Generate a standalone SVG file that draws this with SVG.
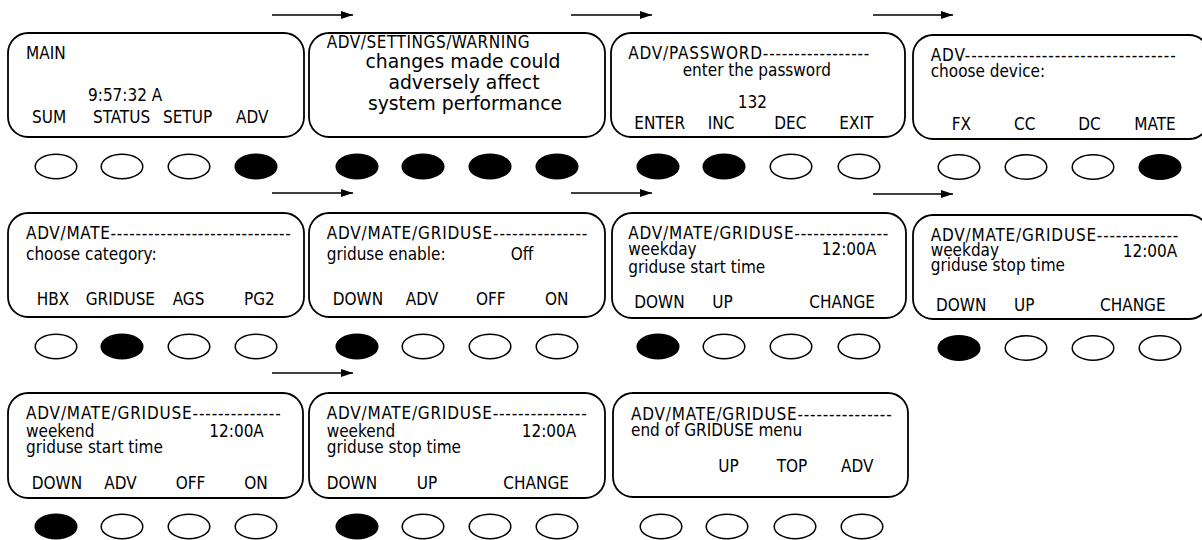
<svg xmlns="http://www.w3.org/2000/svg" width="1202" height="540" viewBox="0 0 1202 540">
<defs>
<style>
.box{fill:#fff;stroke:#000;stroke-width:1.8}
.on{fill:#000;stroke:#000;stroke-width:1.5}
.off{fill:#fff;stroke:#000;stroke-width:1.5}
.t{font-family:"DejaVu Sans Condensed","DejaVu Sans",sans-serif;font-stretch:condensed;font-size:17px;fill:#000}
.w{font-family:"DejaVu Sans","Liberation Sans",sans-serif;font-size:18.8px;fill:#000;text-anchor:middle}
.arr{stroke:#000;stroke-width:1.5;fill:none;marker-end:url(#ah)}
</style>
<marker id="ah" viewBox="0 0 12 8" refX="12" refY="4" markerWidth="12" markerHeight="8" markerUnits="userSpaceOnUse" orient="auto">
<path d="M0,0 L12,4 L0,8 Z" fill="#000"/>
</marker>
</defs>
<rect width="1202" height="540" fill="#fff"/>

<g id="connectors">
<line class="arr" x1="272" y1="15" x2="353" y2="15"/>
<line class="arr" x1="571" y1="15" x2="652" y2="15"/>
<line class="arr" x1="873" y1="15" x2="953" y2="15"/>
<line class="arr" x1="272" y1="193" x2="353" y2="193"/>
<line class="arr" x1="571" y1="193" x2="652" y2="193"/>
<line class="arr" x1="873" y1="194" x2="953" y2="194"/>
<line class="arr" x1="272" y1="373" x2="353" y2="373"/>
</g>

<g id="main">
<rect class="box" x="8" y="33" width="296" height="104" rx="20"/>
<text class="t" x="26" y="59.3">MAIN</text>
<text class="t" x="88" y="101">9:57:32 A</text>
<text class="t" x="32" y="122.7">SUM</text>
<text class="t" x="93" y="122.7">STATUS</text>
<text class="t" x="163" y="122.7">SETUP</text>
<text class="t" x="236" y="122.7">ADV</text>
<ellipse class="off" cx="56" cy="166.5" rx="20.8" ry="12.3"/>
<ellipse class="off" cx="122" cy="166.5" rx="20.8" ry="12.3"/>
<ellipse class="off" cx="189" cy="166.5" rx="20.8" ry="12.3"/>
<ellipse class="on" cx="256" cy="166.5" rx="20.8" ry="12.3"/>
</g>

<g id="adv-warning">
<rect class="box" x="309" y="33" width="296" height="104" rx="20"/>
<text class="t" x="326.7" y="47.7" textLength="203">ADV/SETTINGS/WARNING</text>
<text class="w" x="463" y="68.3">changes made could</text>
<text class="w" x="464" y="89.3">adversely affect</text>
<text class="w" x="465" y="110">system performance</text>
<ellipse class="on" cx="357" cy="166.5" rx="20.8" ry="12.3"/>
<ellipse class="on" cx="423" cy="166.5" rx="20.8" ry="12.3"/>
<ellipse class="on" cx="490" cy="166.5" rx="20.8" ry="12.3"/>
<ellipse class="on" cx="557" cy="166.5" rx="20.8" ry="12.3"/>
</g>

<g id="adv-password">
<rect class="box" x="611" y="33" width="294" height="104" rx="20"/>
<text class="t" x="628.3" y="59" textLength="241">ADV/PASSWORD-----------------</text>
<text class="t" x="682.7" y="75.7">enter the password</text>
<text class="t" x="737.7" y="108.3">132</text>
<text class="t" x="634.3" y="129.3">ENTER</text>
<text class="t" x="707.7" y="129.3">INC</text>
<text class="t" x="774.3" y="129.3">DEC</text>
<text class="t" x="839.3" y="129.3">EXIT</text>
<ellipse class="on" cx="658" cy="166.5" rx="20.8" ry="12.3"/>
<ellipse class="on" cx="724" cy="166.5" rx="20.8" ry="12.3"/>
<ellipse class="off" cx="791" cy="166.5" rx="20.8" ry="12.3"/>
<ellipse class="off" cx="859" cy="166.5" rx="20.8" ry="12.3"/>
</g>

<g id="adv-device">
<rect class="box" x="913" y="35" width="296" height="104" rx="20"/>
<text class="t" x="930.7" y="60.7" textLength="245">ADV---------------------------------</text>
<text class="t" x="930.7" y="77.3">choose device:</text>
<text class="t" x="951.7" y="130">FX</text>
<text class="t" x="1014" y="130">CC</text>
<text class="t" x="1078.3" y="130">DC</text>
<text class="t" x="1134.3" y="130">MATE</text>
<ellipse class="off" cx="959" cy="167" rx="20.8" ry="12.3"/>
<ellipse class="off" cx="1026" cy="167" rx="20.8" ry="12.3"/>
<ellipse class="off" cx="1093" cy="167" rx="20.8" ry="12.3"/>
<ellipse class="on" cx="1160" cy="167" rx="20.8" ry="12.3"/>
</g>

<g id="adv-mate">
<rect class="box" x="8" y="213" width="296" height="104" rx="20"/>
<text class="t" x="26" y="239.3" textLength="264.7">ADV/MATE-----------------------------</text>
<text class="t" x="26" y="260">choose category:</text>
<text class="t" x="36.7" y="305">HBX</text>
<text class="t" x="85.7" y="305">GRIDUSE</text>
<text class="t" x="172.7" y="305">AGS</text>
<text class="t" x="244" y="305">PG2</text>
<ellipse class="off" cx="56" cy="346.5" rx="20.8" ry="12.3"/>
<ellipse class="on" cx="122" cy="346.5" rx="20.8" ry="12.3"/>
<ellipse class="off" cx="189" cy="346.5" rx="20.8" ry="12.3"/>
<ellipse class="off" cx="256" cy="346.5" rx="20.8" ry="12.3"/>
</g>

<g id="griduse-enable">
<rect class="box" x="309" y="213" width="296" height="104" rx="20"/>
<text class="t" x="326.7" y="239.3" textLength="260.6">ADV/MATE/GRIDUSE---------------</text>
<text class="t" x="326.7" y="260">griduse enable:</text>
<text class="t" x="510.7" y="260">Off</text>
<text class="t" x="332.7" y="305">DOWN</text>
<text class="t" x="405.7" y="305">ADV</text>
<text class="t" x="476" y="305">OFF</text>
<text class="t" x="545" y="305">ON</text>
<ellipse class="on" cx="357" cy="346.5" rx="20.8" ry="12.3"/>
<ellipse class="off" cx="423" cy="346.5" rx="20.8" ry="12.3"/>
<ellipse class="off" cx="490" cy="346.5" rx="20.8" ry="12.3"/>
<ellipse class="off" cx="557" cy="346.5" rx="20.8" ry="12.3"/>
</g>

<g id="weekday-start">
<rect class="box" x="612" y="213" width="294" height="105" rx="20"/>
<text class="t" x="628.3" y="239.3" textLength="260">ADV/MATE/GRIDUSE---------------</text>
<text class="t" x="628.3" y="254.5">weekday</text>
<text class="t" x="821.7" y="255">12:00A</text>
<text class="t" x="628.3" y="272.7">griduse start time</text>
<text class="t" x="634.3" y="308.3">DOWN</text>
<text class="t" x="712.3" y="308.3">UP</text>
<text class="t" x="809.3" y="308.3">CHANGE</text>
<ellipse class="on" cx="658" cy="346.5" rx="20.8" ry="12.3"/>
<ellipse class="off" cx="724" cy="346.5" rx="20.8" ry="12.3"/>
<ellipse class="off" cx="791" cy="346.5" rx="20.8" ry="12.3"/>
<ellipse class="off" cx="859" cy="346.5" rx="20.8" ry="12.3"/>
</g>

<g id="weekday-stop">
<rect class="box" x="913" y="215" width="296" height="104" rx="20"/>
<text class="t" x="930.7" y="241" textLength="247.6">ADV/MATE/GRIDUSE-------------</text>
<text class="t" x="930.7" y="255.7">weekday</text>
<text class="t" x="1122.7" y="256.7">12:00A</text>
<text class="t" x="930.7" y="270.7">griduse stop time</text>
<text class="t" x="936" y="311">DOWN</text>
<text class="t" x="1014" y="311">UP</text>
<text class="t" x="1100" y="311">CHANGE</text>
<ellipse class="on" cx="959" cy="348" rx="20.8" ry="12.3"/>
<ellipse class="off" cx="1026" cy="348" rx="20.8" ry="12.3"/>
<ellipse class="off" cx="1093" cy="348" rx="20.8" ry="12.3"/>
<ellipse class="off" cx="1160" cy="348" rx="20.8" ry="12.3"/>
</g>

<g id="weekend-start">
<rect class="box" x="8" y="393" width="295" height="105" rx="20"/>
<text class="t" x="26" y="419.3" textLength="254.7">ADV/MATE/GRIDUSE--------------</text>
<text class="t" x="26" y="436.7">weekend</text>
<text class="t" x="209.3" y="436.7">12:00A</text>
<text class="t" x="26" y="453.3">griduse start time</text>
<text class="t" x="31.7" y="489">DOWN</text>
<text class="t" x="104.3" y="489">ADV</text>
<text class="t" x="175.7" y="489">OFF</text>
<text class="t" x="244.3" y="489">ON</text>
<ellipse class="on" cx="56" cy="526.5" rx="20.8" ry="12.3"/>
<ellipse class="off" cx="122" cy="526.5" rx="20.8" ry="12.3"/>
<ellipse class="off" cx="189" cy="526.5" rx="20.8" ry="12.3"/>
<ellipse class="off" cx="256" cy="526.5" rx="20.8" ry="12.3"/>
</g>

<g id="weekend-stop">
<rect class="box" x="309" y="393" width="296" height="105" rx="20"/>
<text class="t" x="326.7" y="419.3" textLength="260">ADV/MATE/GRIDUSE---------------</text>
<text class="t" x="326.7" y="436.7">weekend</text>
<text class="t" x="521.7" y="436.7">12:00A</text>
<text class="t" x="326.7" y="453.3">griduse stop time</text>
<text class="t" x="326.7" y="489">DOWN</text>
<text class="t" x="416.7" y="489">UP</text>
<text class="t" x="503.3" y="489">CHANGE</text>
<ellipse class="on" cx="357" cy="526.5" rx="20.8" ry="12.3"/>
<ellipse class="off" cx="423" cy="526.5" rx="20.8" ry="12.3"/>
<ellipse class="off" cx="490" cy="526.5" rx="20.8" ry="12.3"/>
<ellipse class="off" cx="557" cy="526.5" rx="20.8" ry="12.3"/>
</g>

<g id="griduse-end">
<rect class="box" x="613" y="393" width="295" height="104" rx="20"/>
<text class="t" x="631" y="420" textLength="260.7">ADV/MATE/GRIDUSE---------------</text>
<text class="t" x="631" y="435.7">end of GRIDUSE menu</text>
<text class="t" x="718.3" y="471.7">UP</text>
<text class="t" x="776.7" y="471.7">TOP</text>
<text class="t" x="841" y="471.7">ADV</text>
<ellipse class="off" cx="661" cy="526.5" rx="20.8" ry="12.3"/>
<ellipse class="off" cx="727" cy="526.5" rx="20.8" ry="12.3"/>
<ellipse class="off" cx="795" cy="526.5" rx="20.8" ry="12.3"/>
<ellipse class="off" cx="862" cy="526.5" rx="20.8" ry="12.3"/>
</g>
</svg>
